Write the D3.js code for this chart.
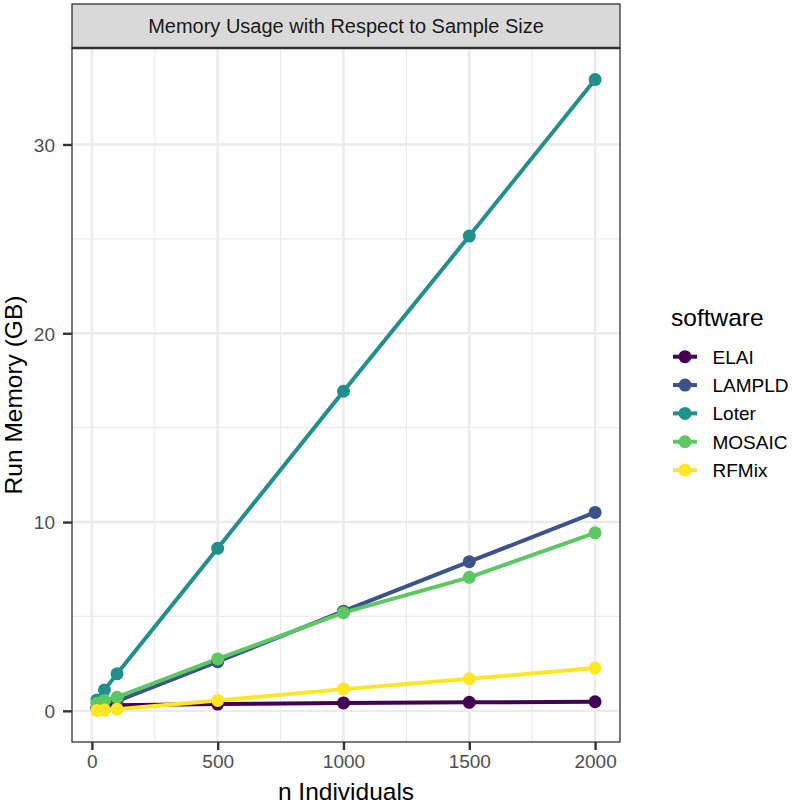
<!DOCTYPE html>
<html><head><meta charset="utf-8">
<script src="https://cdn.jsdelivr.net/npm/d3@7"></script>
<style>body{margin:0;background:#fff}svg{display:block}text{font-family:"Liberation Sans",Arial,sans-serif}</style>
</head><body>
<svg id="c" width="793" height="805"></svg>
<script>
const nIndividuals = [20, 50, 100, 500, 1000, 1500, 2000];
const software = ["ELAI", "LAMPLD", "Loter", "MOSAIC", "RFMix"];
const colors = ["#440154", "#3B528B", "#21908C", "#5DC863", "#FDE725"];
const ELAI   = [0.15, 0.25, 0.30, 0.36, 0.42, 0.45, 0.48];
const LAMPLD = [0.10, 0.27, 0.52, 2.60, 5.28, 7.90, 10.51];
const Loter  = [0.58, 1.11, 1.96, 8.61, 16.93, 25.15, 33.44];
const MOSAIC = [0.40, 0.55, 0.72, 2.75, 5.20, 7.07, 9.43];
const RFMix  = [0.02, 0.04, 0.09, 0.55, 1.15, 1.70, 2.27];
const seriesValues = [ELAI, LAMPLD, Loter, MOSAIC, RFMix];
const xTicks = [0, 500, 1000, 1500, 2000];
const xMinor = [250, 750, 1250, 1750];
const yTicks = [0, 10, 20, 30];
const yMinor = [5, 15, 25];
const title = "Memory Usage with Respect to Sample Size";

const svg = d3.select("#c");
const P = {l: 72, r: 620, t: 48, b: 742};
function expand(ext){const d=(ext[1]-ext[0])*0.05;return [ext[0]-d, ext[1]+d];}
const allY = seriesValues.flat();
const x = d3.scaleLinear().domain(expand(d3.extent(nIndividuals))).range([P.l, P.r]);
const y = d3.scaleLinear().domain(expand(d3.extent(allY))).range([P.b, P.t]);

svg.append("rect").attr("x",P.l).attr("y",P.t).attr("width",P.r-P.l).attr("height",P.b-P.t).attr("fill","#fff");
const grid = svg.append("g");
xMinor.forEach(v=>grid.append("line").attr("x1",x(v)).attr("x2",x(v)).attr("y1",P.t).attr("y2",P.b).attr("stroke","#ebebeb").attr("stroke-width",1.2));
yMinor.forEach(v=>grid.append("line").attr("y1",y(v)).attr("y2",y(v)).attr("x1",P.l).attr("x2",P.r).attr("stroke","#ebebeb").attr("stroke-width",1.2));
xTicks.forEach(v=>grid.append("line").attr("x1",x(v)).attr("x2",x(v)).attr("y1",P.t).attr("y2",P.b).attr("stroke","#ebebeb").attr("stroke-width",2.4));
yTicks.forEach(v=>grid.append("line").attr("y1",y(v)).attr("y2",y(v)).attr("x1",P.l).attr("x2",P.r).attr("stroke","#ebebeb").attr("stroke-width",2.4));

const line = d3.line().x((d,i)=>x(nIndividuals[i])).y(d=>y(d));
svg.append("clipPath").attr("id","pc").append("rect").attr("x",P.l).attr("y",P.t).attr("width",P.r-P.l).attr("height",P.b-P.t);
const data = svg.append("g").attr("clip-path","url(#pc)");
seriesValues.forEach((vals,k)=>{
  data.append("path").attr("d",line(vals)).attr("fill","none").attr("stroke",colors[k]).attr("stroke-width",4).attr("stroke-linejoin","round");
});
seriesValues.forEach((vals,k)=>{
  vals.forEach((v,i)=>data.append("circle").attr("cx",x(nIndividuals[i])).attr("cy",y(v)).attr("r",6.5).attr("fill",colors[k]));
});

svg.append("rect").attr("x",P.l).attr("y",P.t).attr("width",P.r-P.l).attr("height",P.b-P.t).attr("fill","none").attr("stroke","#333333").attr("stroke-width",1.3);
svg.append("rect").attr("x",P.l).attr("y",4).attr("width",P.r-P.l).attr("height",P.t-4).attr("fill","#d9d9d9").attr("stroke","#333333").attr("stroke-width",1.3);
svg.append("line").attr("x1",P.l).attr("x2",P.r).attr("y1",P.t).attr("y2",P.t).attr("stroke","#333333").attr("stroke-width",2.4);
svg.append("text").attr("x",(P.l+P.r)/2).attr("y",32.5).attr("text-anchor","middle").attr("font-size",20).attr("fill","#1a1a1a").text(title);

const xAxis = d3.axisBottom(x).tickValues(xTicks).tickFormat(d3.format("d")).tickSize(8).tickPadding(5);
const gx = svg.append("g").attr("transform",`translate(0,${P.b})`).call(xAxis);
gx.select(".domain").remove();
gx.selectAll(".tick line").attr("stroke","#333333").attr("stroke-width",2.4);
gx.selectAll(".tick text").attr("font-size",19).attr("fill","#4d4d4d").attr("font-family","Liberation Sans, Arial, sans-serif").attr("dy","0.78em").attr("y",11);

const yAxis = d3.axisLeft(y).tickValues(yTicks).tickFormat(d3.format("d")).tickSize(9).tickPadding(8);
const gy = svg.append("g").attr("transform",`translate(${P.l},0)`).call(yAxis);
gy.select(".domain").remove();
gy.selectAll(".tick line").attr("stroke","#333333").attr("stroke-width",2.4);
gy.selectAll(".tick text").attr("font-size",19).attr("fill","#4d4d4d").attr("font-family","Liberation Sans, Arial, sans-serif").attr("x",-17).attr("dy","0.36em");

svg.append("text").attr("x",(P.l+P.r)/2).attr("y",800).attr("text-anchor","middle").attr("font-size",24.5).attr("fill","#000").text("n Individuals");
svg.append("text").attr("transform",`translate(21.5,${(P.t+P.b)/2}) rotate(-90)`).attr("text-anchor","middle").attr("font-size",24.5).attr("fill","#000").text("Run Memory (GB)");

const lg = svg.append("g");
lg.append("text").attr("x",671).attr("y",326).attr("font-size",24.5).attr("fill","#000").text("software");
software.forEach((s,k)=>{
  const cy = 356.7 + k*28.35;
  lg.append("line").attr("x1",673).attr("x2",697).attr("y1",cy).attr("y2",cy).attr("stroke",colors[k]).attr("stroke-width",4);
  lg.append("circle").attr("cx",685).attr("cy",cy).attr("r",6.5).attr("fill",colors[k]);
  lg.append("text").attr("x",712.5).attr("y",cy).attr("dy","0.36em").attr("font-size",19).attr("fill","#000").text(s);
});
</script>
</body></html>
